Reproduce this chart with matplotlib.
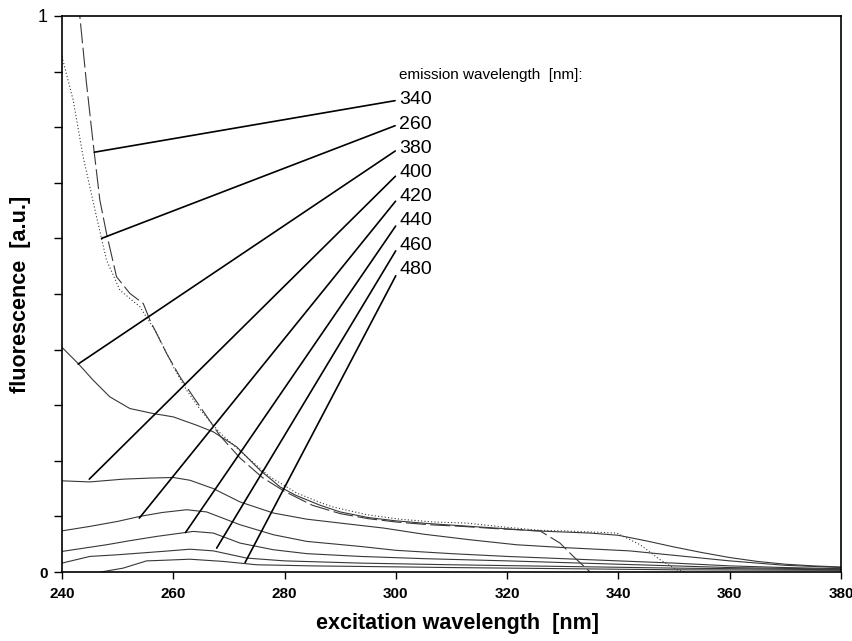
import matplotlib
matplotlib.use("Agg")
import matplotlib.pyplot as plt

plt.rcParams['font.family'] = ['Liberation Sans', 'DejaVu Sans']

# emission curves (excitation wavelength [nm], fluorescence [a.u.])
x_260 = [240, 242, 243.8, 246.2, 248, 250.4, 254, 257, 260, 262.4, 265, 268.4, 273.2, 277.4,
         282.2, 286.4, 288.7, 294.8, 300.7, 306.7, 312.7, 319.3, 325.9, 330, 334.9, 339.7,
         343.9, 347.5, 350.5, 352]
y_260 = [0.927, 0.849, 0.747, 0.639, 0.561, 0.507, 0.477, 0.43, 0.369, 0.327, 0.29, 0.25, 0.207,
         0.171, 0.142, 0.125, 0.117, 0.103, 0.095, 0.090, 0.088, 0.081, 0.075, 0.074, 0.072,
         0.070, 0.049, 0.022, 0.004, 0.0]

x_340 = [242.9, 243.2, 244.4, 245.6, 246.8, 248, 249.8, 252.2, 254.6, 255.8, 258.8, 261.2, 263.6,
         266, 268.4, 272, 276, 280, 285, 290, 295, 300, 306, 312, 318, 322, 325.9, 329.5, 331.9,
         334.9]
y_340 = [1.05, 1.0, 0.879, 0.771, 0.669, 0.609, 0.531, 0.501, 0.483, 0.453, 0.393, 0.351, 0.315,
         0.28, 0.245, 0.205, 0.17, 0.145, 0.12, 0.105, 0.096, 0.09, 0.085, 0.082, 0.078, 0.076,
         0.074, 0.052, 0.028, 0.0]

x_380 = [240, 242.9, 245.6, 248.6, 252.2, 256.4, 260, 264.2, 267.2, 271.4, 275.6, 279.2, 282,
         286.4, 290, 295, 300, 306, 312, 318, 325, 330, 335, 340, 345, 350, 355, 360, 365, 370,
         375, 380]
y_380 = [0.404, 0.375, 0.345, 0.315, 0.294, 0.285, 0.279, 0.264, 0.252, 0.225, 0.183, 0.153,
         0.138, 0.12, 0.108, 0.098, 0.092, 0.087, 0.083, 0.079, 0.074, 0.072, 0.070, 0.066,
         0.056, 0.045, 0.035, 0.026, 0.019, 0.014, 0.011, 0.009]

x_400 = [240, 245, 251, 256, 260, 263, 267.2, 272, 278, 284, 290, 297.8, 305, 313.3, 321.7, 330,
         342, 350, 360, 370, 380]
y_400 = [0.164, 0.162, 0.167, 0.169, 0.170, 0.165, 0.15, 0.126, 0.106, 0.095, 0.088, 0.079,
         0.068, 0.058, 0.049, 0.044, 0.038, 0.03, 0.02, 0.012, 0.008]

x_420 = [240, 245, 250, 254, 258, 262.4, 266, 272, 278, 284, 293.6, 300, 310, 320, 330, 340, 350,
         360, 370, 380]
y_420 = [0.074, 0.082, 0.091, 0.1, 0.107, 0.112, 0.108, 0.085, 0.067, 0.055, 0.046, 0.039, 0.033,
         0.028, 0.024, 0.02, 0.016, 0.011, 0.008, 0.006]

x_440 = [240, 244, 248, 252, 257, 263.6, 267.2, 272, 278, 284, 293.6, 305, 320, 340, 360, 380]
y_440 = [0.037, 0.043, 0.049, 0.056, 0.064, 0.073, 0.07, 0.052, 0.04, 0.033, 0.028, 0.024, 0.02,
         0.014, 0.008, 0.005]

x_460 = [240, 245, 250, 254, 258, 263, 267.2, 273.2, 280, 293.6, 310, 330, 350, 380]
y_460 = [0.016, 0.028, 0.031, 0.034, 0.037, 0.041, 0.038, 0.025, 0.02, 0.016, 0.013, 0.01,
         0.007, 0.004]

x_480 = [247, 251, 255.2, 258, 263, 269, 275, 285, 293.6, 310, 330, 350, 380]
y_480 = [0.0, 0.007, 0.02, 0.021, 0.023, 0.019, 0.013, 0.011, 0.01, 0.008, 0.006, 0.004, 0.003]

# labels of the emission wavelengths and the point each leader line touches
em_labels = ['340', '260', '380', '400', '420', '440', '460', '480']
leader_x = [245.8, 247.1, 242.9, 244.9, 253.9, 262.2, 267.8, 272.9]
leader_y = [0.755, 0.60, 0.374, 0.167, 0.097, 0.071, 0.043, 0.017]

fig = plt.figure(figsize=(8.53, 6.41), dpi=100)
ax = fig.add_axes([62 / 853, 1 - 572 / 641, (841 - 62) / 853, (572 - 16) / 641])

curve_color = '#383838'
ax.plot(x_260, y_260, color=curve_color, lw=0.8, linestyle=(0, (1, 2)))
ax.plot(x_340, y_340, color=curve_color, lw=0.8, linestyle=(0, (18, 4)))
ax.plot(x_380, y_380, color=curve_color, lw=0.8)
for xs, ys in [(x_400, y_400), (x_420, y_420), (x_440, y_440), (x_460, y_460), (x_480, y_480)]:
    ax.plot(xs, ys, color=curve_color, lw=0.8)

# legend text with leader lines
ax.text(300.6, 0.894, 'emission wavelength  [nm]:', fontsize=11, ha='left', va='center')
for i, lab in enumerate(em_labels):
    ty = 0.849 - i * 0.0435
    ax.annotate(lab, xy=(leader_x[i], leader_y[i]), xytext=(300.6, ty),
                fontsize=14, ha='left', va='center',
                arrowprops=dict(arrowstyle='-', color='black', lw=1.2,
                                relpos=(0, 0.5), shrinkA=1, shrinkB=0))

ax.set_xlim(240, 380)
ax.set_ylim(0, 1)
ax.set_xticks(range(240, 381, 20))
ax.set_xticklabels([str(v) for v in range(240, 381, 20)], fontweight='bold', fontsize=11)
ax.set_yticks([0, 1])
ax.set_yticks([i / 10 for i in range(1, 10)], minor=True)
ylabs = ax.set_yticklabels(['0', '1'])
ylabs[0].set_fontweight('bold')
ylabs[0].set_fontsize(11)
ylabs[1].set_fontsize(13)
ax.tick_params(axis='x', direction='out', length=5, width=1, pad=6)
ax.tick_params(axis='y', which='both', direction='out', length=6, width=1, pad=4)

for s in ax.spines.values():
    s.set_linewidth(1.2)

ax.set_xlabel('excitation wavelength  [nm]', fontsize=15.5, fontweight='bold')
ax.xaxis.set_label_coords(0.508, -0.074)
ax.set_ylabel('fluorescence  [a.u.]', fontsize=15.5, fontweight='bold')
ax.yaxis.set_label_coords(-0.04, 0.5)

fig.savefig('out.png', dpi=100)
